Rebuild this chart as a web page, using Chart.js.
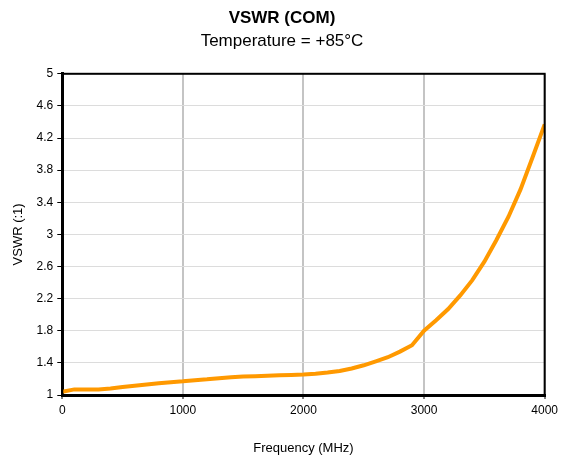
<!DOCTYPE html>
<html>
<head>
<meta charset="utf-8">
<script src="https://cdn.jsdelivr.net/npm/chart.js@4/dist/chart.umd.min.js"></script>
<style>
  html, body { margin: 0; padding: 0; background: #fff; }
  #wrap { width: 562px; height: 461px; }
</style>
</head>
<body>
<div id="wrap"><canvas id="myChart" width="562" height="461"></canvas></div>
<script>
// frequency in MHz
const freqs = [0, 100, 200, 300, 400, 500, 600, 700, 800, 900,
    1000, 1100, 1200, 1300, 1400, 1500, 1600, 1700, 1800, 1900,
    2000, 2100, 2200, 2300, 2400, 2500, 2600, 2700, 2800, 2900,
    3000, 3100, 3200, 3300, 3400, 3500, 3600, 3700, 3800, 3900, 4000];

// VSWR (:1) at +85C
const vswr = [1.04, 1.07, 1.07, 1.07, 1.08, 1.10, 1.115, 1.13, 1.145, 1.16,
    1.17, 1.185, 1.195, 1.21, 1.22, 1.23, 1.235, 1.24, 1.245, 1.25,
    1.255, 1.265, 1.28, 1.30, 1.33, 1.37, 1.42, 1.47, 1.54, 1.62,
    1.80, 1.93, 2.07, 2.24, 2.43, 2.66, 2.93, 3.22, 3.56, 3.96, 4.37];

const xTicks = [0, 1000, 2000, 3000, 4000];
const yTicks = [1, 1.4, 1.8, 2.2, 2.6, 3, 3.4, 3.8, 4.2, 4.6, 5];

const points = freqs.map((f, i) => ({ x: f, y: vswr[i] }));

Chart.defaults.font.family = '"Liberation Sans", Arial, sans-serif';
Chart.defaults.color = '#000';

// box around the plot (top + right edges)
const frame = {
    id: 'frame',
    afterDraw(chart) {
        const a = chart.chartArea;
        const ctx = chart.ctx;
        ctx.save();
        ctx.strokeStyle = '#000';
        ctx.lineWidth = 2;
        ctx.strokeRect(a.left, a.top, a.right - a.left, a.bottom - a.top);
        ctx.restore();
    }
};

new Chart(document.getElementById('myChart'), {
    type: 'line',
    data: {
        datasets: [{
            label: 'VSWR',
            data: points,
            borderColor: '#ff9900',
            borderWidth: 4,
            pointRadius: 0,
            tension: 0,
            fill: false
        }]
    },
    options: {
        responsive: false,
        animation: false,
        layout: { padding: { left: 11, right: 9, top: 0, bottom: 5 } },
        plugins: {
            legend: { display: false },
            tooltip: { enabled: false },
            title: {
                display: true,
                text: 'VSWR (COM)',
                font: { size: 17, weight: 'bold' },
                padding: { top: 8, bottom: 0 }
            },
            subtitle: {
                display: true,
                text: 'Temperature = +85°C',
                font: { size: 17 },
                padding: { top: 3, bottom: 22 }
            }
        },
        scales: {
            x: {
                type: 'linear',
                min: 0,
                max: 4000,
                afterBuildTicks: s => { s.ticks = xTicks.map(v => ({ value: v })); },
                ticks: { font: { size: 12 }, padding: 4, maxRotation: 0, callback: v => String(v) },
                grid: { color: '#c4c4c4', lineWidth: 2, tickColor: '#000', tickLength: 4, tickWidth: 1 },
                border: { color: '#000', width: 3 },
                title: { display: true, text: 'Frequency (MHz)', font: { size: 13 }, padding: { top: 19, bottom: 0 } }
            },
            y: {
                min: 1,
                max: 5,
                afterBuildTicks: s => { s.ticks = yTicks.map(v => ({ value: v })); },
                ticks: { font: { size: 12 }, padding: 4, callback: v => String(+v.toFixed(1)) },
                grid: { color: '#dcdcdc', lineWidth: 1, tickColor: '#000', tickLength: 5, tickWidth: 1 },
                border: { color: '#000', width: 3 },
                title: { display: true, text: 'VSWR (:1)', font: { size: 13 }, padding: { top: 0, bottom: 6 } }
            }
        }
    },
    plugins: [frame]
});
</script>
</body>
</html>
